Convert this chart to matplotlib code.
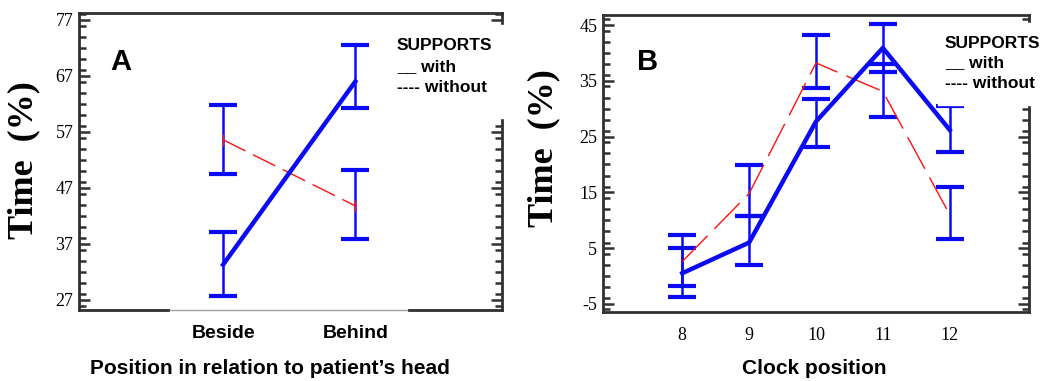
import numpy as np
import matplotlib
matplotlib.use("Agg")
import matplotlib.pyplot as plt
from matplotlib.ticker import MultipleLocator
from matplotlib.patches import Rectangle

matplotlib.rcParams['axes.unicode_minus'] = False

# ── data ───────────────────────────────────────────────────
pos_labels = ["Beside", "Behind"]
a_with     = [33.3, 66.0]
a_with_lo  = [27.7, 61.3]
a_with_hi  = [39.1, 72.6]
a_wo       = [55.6, 43.8]
a_wo_lo    = [49.5, 37.8]
a_wo_hi    = [61.9, 50.2]

clock      = [8, 9, 10, 11, 12]
b_with     = [0.5, 6.0, 27.7, 40.9, 26.2]
b_with_lo  = [-1.8, 1.9, 23.2, 36.6, 22.2]
b_with_hi  = [5.0, 10.7, 31.7, 45.2, 30.4]
b_wo       = [2.6, 14.8, 38.2, 33.1, 11.0]
b_wo_lo    = [-3.8, 10.7, 33.7, 28.6, 6.7]
b_wo_hi    = [7.4, 19.9, 43.2, 38.1, 16.0]

BLUE = "#0a0af5"
RED  = "#ff1010"
SPINE = "#303030"

fig = plt.figure(figsize=(10.42, 3.81), dpi=100)
axA = fig.add_axes([0.0758, 0.1864, 0.406, 0.7795])
axB = fig.add_axes([0.5784, 0.1819, 0.4094, 0.7787])


def errs(mean, lo, hi):
    mean = np.array(mean); lo = np.array(lo); hi = np.array(hi)
    return mean, np.vstack([mean - lo, hi - mean])


def style(ax):
    for s in ax.spines.values():
        s.set_color(SPINE)
        s.set_linewidth(2)
    ax.yaxis.set_minor_locator(MultipleLocator(2))
    ax.tick_params(axis="y", which="major", direction="in", length=8,
                   width=1.8, color=SPINE, left=True, right=True, pad=4,
                   labelsize=13, labelfontfamily="Liberation Serif")
    ax.tick_params(axis="y", which="minor", direction="in", length=5,
                   width=1.8, color=SPINE, left=True, right=True)
    ax.tick_params(axis="x", length=0, pad=11)


# ── panel A ────────────────────────────────────────────────
x = np.arange(len(pos_labels))
m, e = errs(a_wo, a_wo_lo, a_wo_hi)
axA.errorbar(x, m, yerr=e, fmt="none", ecolor=BLUE, elinewidth=1.8,
             capsize=10, capthick=3, zorder=2)
axA.plot(x, m, color=RED, lw=1.0, dashes=(18, 6), zorder=3)
axA.plot(x, m, ls="none", marker="|", ms=8, mew=1, color=RED, zorder=3)
m, e = errs(a_with, a_with_lo, a_with_hi)
axA.errorbar(x, m, yerr=e, fmt="none", ecolor=BLUE, elinewidth=1.8,
             capsize=10, capthick=3, zorder=2)
axA.plot(x, m, color=BLUE, lw=3.2, zorder=4)

axA.set_xlim(-1.09, 2.11)
axA.set_ylim(25.2, 78.25)
axA.set_yticks([27, 37, 47, 57, 67, 77])
axA.set_xticks(x)
axA.set_xticklabels(pos_labels, fontsize=14, fontweight="bold",
                    family="Liberation Sans")
style(axA)
# bottom spine: faint in the middle, as in the scan
axA.spines["bottom"].set_color("#a0a0a0")
axA.spines["bottom"].set_linewidth(1)
for x0, x1 in [(0, 0.21), (0.78, 1)]:
    axA.plot([x0, x1], [0, 0], transform=axA.transAxes, color=SPINE,
             lw=2, clip_on=False, zorder=5)

# ── panel B ────────────────────────────────────────────────
m, e = errs(b_wo, b_wo_lo, b_wo_hi)
axB.errorbar(clock, m, yerr=e, fmt="none", ecolor=BLUE, elinewidth=1.8,
             capsize=10, capthick=3, zorder=2)
axB.plot(clock, m, color=RED, lw=1.0, dashes=(26, 7), zorder=3)
m, e = errs(b_with, b_with_lo, b_with_hi)
axB.errorbar(clock, m, yerr=e, fmt="none", ecolor=BLUE, elinewidth=1.8,
             capsize=10, capthick=3, zorder=2)
axB.plot(clock, m, color=BLUE, lw=3.2, zorder=4)

axB.set_xlim(6.81, 13.19)
axB.set_ylim(-6.4, 46.8)
axB.set_yticks([-5, 5, 15, 25, 35, 45])
axB.set_xticks(clock)
axB.set_xticklabels([str(c) for c in clock], fontsize=13,
                    family="Liberation Serif")
style(axB)

# ── texts ──────────────────────────────────────────────────
W, H = 1042, 381


def ftext(px, py, s, **kw):
    fig.text(px / W, 1 - py / H, s, **kw)


for px, py in [(24, 160), (544, 148)]:
    ftext(px, py, "Time  (%)", rotation=90, ha="center", va="center",
          fontsize=26, fontweight="bold", family="Liberation Serif")

ftext(270, 368, "Position in relation to patient\u2019s head", ha="center",
      va="center", fontsize=15, fontweight="bold", family="Liberation Sans")
ftext(814, 368, "Clock position", ha="center", va="center", fontsize=15,
      fontweight="bold", family="Liberation Sans")

ftext(121, 62, "A", ha="center", va="center", fontsize=21,
      fontweight="bold", family="Liberation Sans")
ftext(648, 62, "B", ha="center", va="center", fontsize=21,
      fontweight="bold", family="Liberation Sans")

# legend blocks with white backing
for bx, by, bw, bh, lx, ly in [(390, 25, 125, 93, 397, (46, 67, 87)),
                               (938, 23, 104, 82, 945, (43, 63, 83))]:
    fig.patches.append(Rectangle((bx / W, 1 - (by + bh) / H), bw / W, bh / H,
                                 transform=fig.transFigure, color="white",
                                 zorder=10))
    for s, yy in zip(["SUPPORTS", "__ with", "---- without"], ly):
        ftext(lx, yy, s, ha="left", va="center", fontsize=12.5,
              fontweight="bold", family="Liberation Sans", zorder=11)

fig.savefig("out.png", dpi=100)
